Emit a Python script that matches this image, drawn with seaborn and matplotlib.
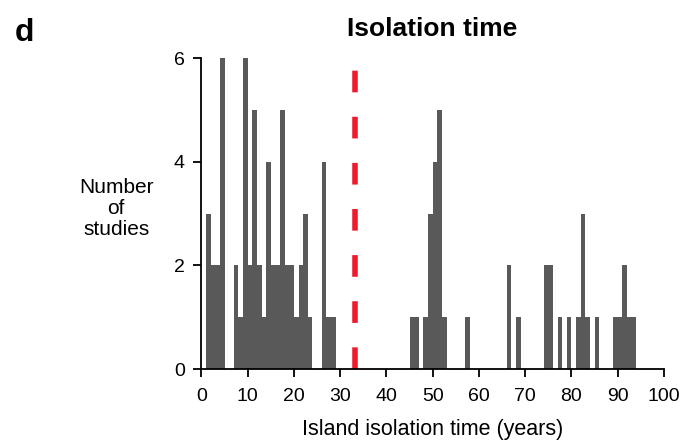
import numpy as np
import pandas as pd
import matplotlib
matplotlib.use('Agg')
import matplotlib.pyplot as plt
import seaborn as sns

# isolation time bins (left edge, years) and number of studies in each bin
years = [1, 2, 3, 4, 7, 8, 9, 10, 11, 12, 13, 14, 15, 16, 17, 18, 19, 20, 21, 22, 23,
         26, 27, 28,
         45, 46, 48, 49, 50, 51, 52, 57, 66, 68,
         74, 75, 77, 79, 81, 82, 83, 85, 89, 90, 91, 92, 93]
counts = [3, 2, 2, 6, 2, 1, 6, 2, 5, 2, 1, 4, 2, 2, 5, 2, 2, 1, 2, 3, 1,
          4, 1, 1,
          1, 1, 1, 3, 4, 5, 1, 1, 2, 1,
          2, 2, 1, 1, 1, 3, 1, 1, 1, 1, 2, 1, 1]
threshold = 33.3
x_ticks = list(range(0, 101, 10))
y_ticks = [0, 2, 4, 6]

df = pd.DataFrame({'year': [y + 0.5 for y in years], 'n': counts})

sns.set_style('ticks')
plt.rcParams['font.family'] = ['Liberation Sans', 'DejaVu Sans']
plt.rcParams['text.color'] = 'black'
plt.rcParams['axes.labelcolor'] = 'black'
plt.rcParams['xtick.color'] = 'black'
plt.rcParams['ytick.color'] = 'black'

fig = plt.figure(figsize=(6.83, 4.43), dpi=100)
ax = fig.add_axes([0.295, 0.167, 0.677, 0.702])

sns.histplot(data=df, x='year', weights='n', binwidth=1, binrange=(0, 100),
             color='#595959', alpha=1, linewidth=0, ax=ax)

# red dashed threshold line
ax.plot([threshold, threshold], [0, 5.8], color='#ec1c2e', lw=4.0,
        dashes=(3.9, 4.4), solid_capstyle='butt')

ax.set_xlim(0, 100)
ax.set_ylim(0, 6)
ax.set_xticks(x_ticks)
ax.set_yticks(y_ticks)
ax.tick_params(labelsize=14, length=5.5, width=1.3, color='black')
ax.tick_params(axis='x', pad=8)
ax.tick_params(axis='y', pad=6.5)
for s in ['left', 'bottom']:
    ax.spines[s].set_linewidth(1.3)
    ax.spines[s].set_color('black')
sns.despine(ax=ax)

ax.set_xlabel('Island isolation time (years)', fontsize=15.5, labelpad=10)
ax.set_ylabel('')
fig.text(0.170, 0.53, 'Number\nof\nstudies', ha='center', va='center',
         fontsize=15, linespacing=1.13)
fig.text(0.633, 0.934, 'Isolation time', ha='center', va='center',
         fontsize=19, fontweight='bold')
fig.text(0.036, 0.926, 'd', ha='center', va='center', fontsize=23, fontweight='bold')

plt.savefig('out.png', dpi=100)
